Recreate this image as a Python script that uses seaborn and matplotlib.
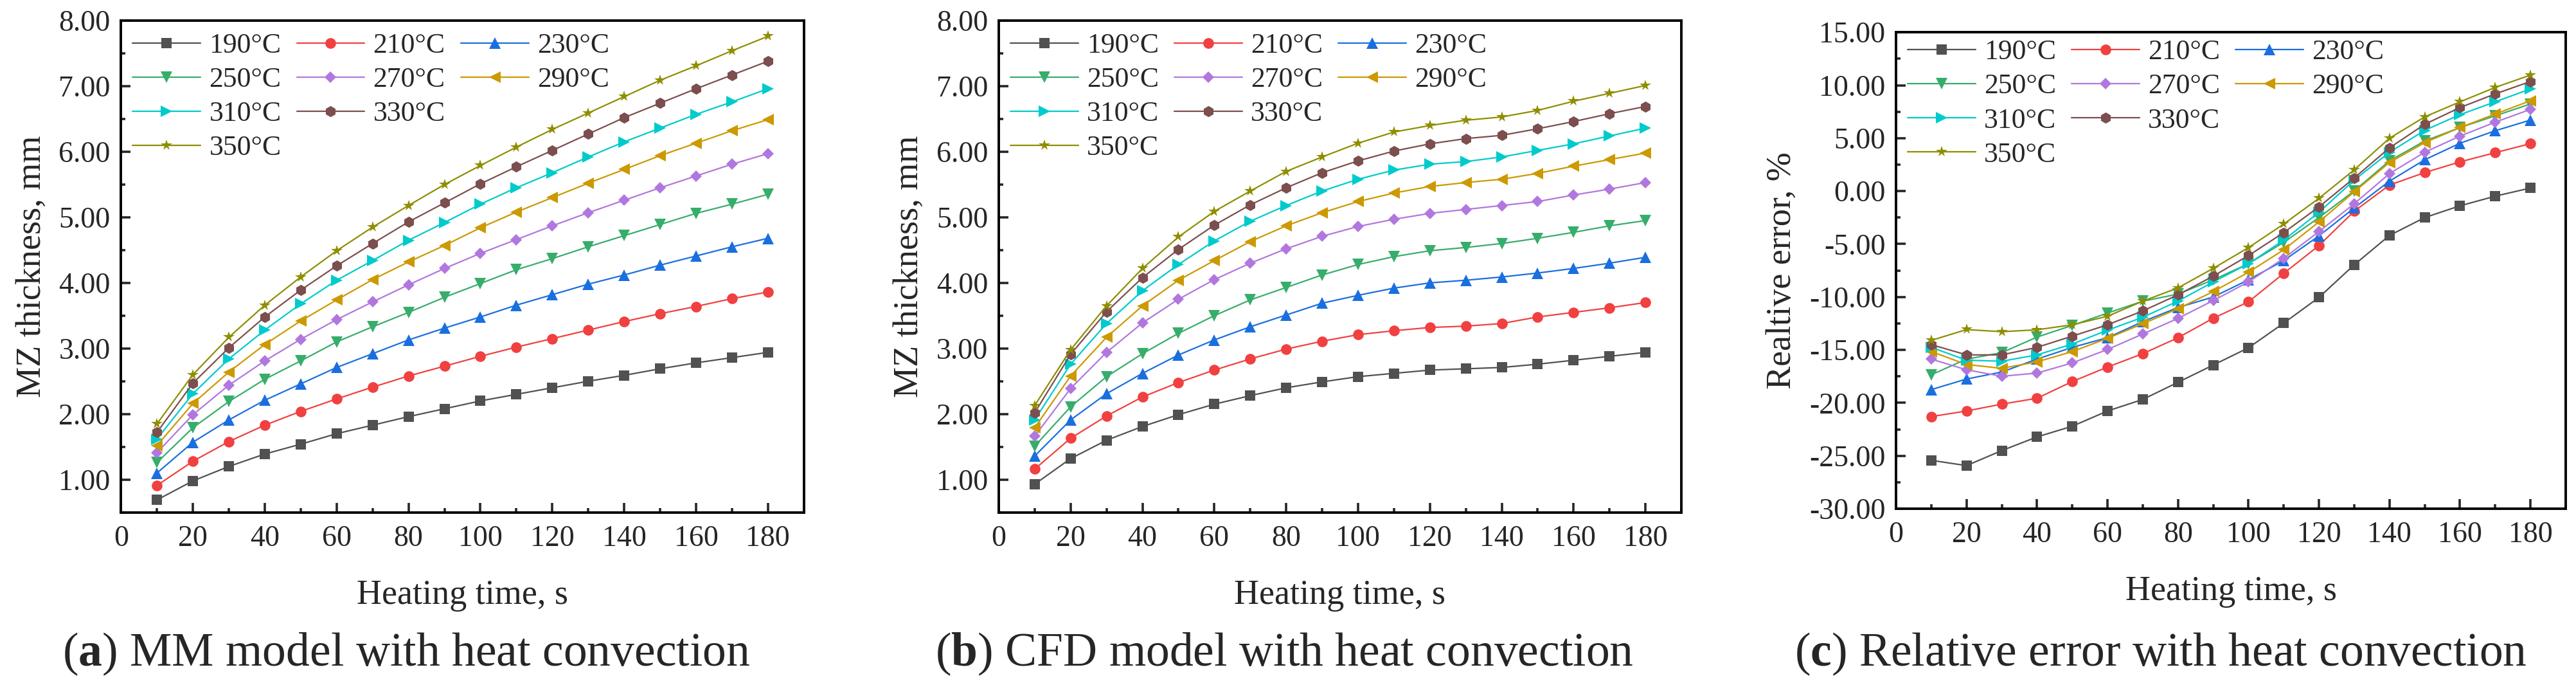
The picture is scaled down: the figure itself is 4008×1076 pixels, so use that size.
import numpy as np
import pandas as pd
import seaborn as sns
import matplotlib.pyplot as plt
from matplotlib.lines import Line2D
from matplotlib.ticker import MultipleLocator, FormatStrFormatter

sns.set_style("ticks")
plt.rcParams['font.family'] = ['Liberation Serif', 'DejaVu Serif']
plt.rcParams['mathtext.fontset'] = 'custom'
plt.rcParams['mathtext.rm'] = 'Liberation Serif'
plt.rcParams['mathtext.bf'] = 'Liberation Serif:bold'

time = [10, 20, 30, 40, 50, 60, 70, 80, 90, 100, 110, 120, 130, 140, 150, 160, 170, 180]
temps = ['190°C', '210°C', '230°C', '250°C', '270°C', '290°C', '310°C', '330°C', '350°C']

# (a) MM model, MZ thickness in mm
mm_190 = [0.69, 0.98, 1.20, 1.39, 1.54, 1.70, 1.83, 1.96, 2.08, 2.20, 2.30, 2.40, 2.50, 2.59, 2.69, 2.78, 2.86, 2.94]
mm_210 = [0.91, 1.28, 1.58, 1.83, 2.04, 2.23, 2.41, 2.58, 2.73, 2.88, 3.02, 3.15, 3.28, 3.41, 3.53, 3.64, 3.76, 3.86]
mm_230 = [1.10, 1.57, 1.91, 2.21, 2.46, 2.71, 2.92, 3.13, 3.31, 3.48, 3.66, 3.82, 3.98, 4.12, 4.27, 4.41, 4.55, 4.68]
mm_250 = [1.26, 1.79, 2.19, 2.53, 2.81, 3.10, 3.33, 3.55, 3.78, 3.99, 4.20, 4.37, 4.55, 4.72, 4.89, 5.06, 5.20, 5.35]
mm_270 = [1.41, 1.99, 2.44, 2.81, 3.14, 3.44, 3.71, 3.97, 4.22, 4.45, 4.66, 4.87, 5.07, 5.26, 5.45, 5.63, 5.81, 5.97]
mm_290 = [1.52, 2.16, 2.64, 3.06, 3.42, 3.74, 4.05, 4.32, 4.57, 4.84, 5.08, 5.30, 5.52, 5.73, 5.94, 6.13, 6.32, 6.49]
mm_310 = [1.62, 2.31, 2.84, 3.28, 3.68, 4.04, 4.34, 4.65, 4.92, 5.20, 5.45, 5.68, 5.92, 6.15, 6.36, 6.57, 6.76, 6.96]
mm_330 = [1.72, 2.47, 3.01, 3.48, 3.89, 4.26, 4.60, 4.93, 5.22, 5.51, 5.77, 6.02, 6.27, 6.52, 6.74, 6.96, 7.17, 7.38]
mm_350 = [1.85, 2.60, 3.17, 3.66, 4.09, 4.49, 4.85, 5.18, 5.50, 5.79, 6.07, 6.34, 6.59, 6.84, 7.09, 7.31, 7.54, 7.76]

# (b) CFD model, MZ thickness in mm
cfd_190 = [0.93, 1.32, 1.60, 1.81, 1.99, 2.15, 2.28, 2.40, 2.49, 2.57, 2.62, 2.67, 2.69, 2.71, 2.76, 2.82, 2.88, 2.94]
cfd_210 = [1.16, 1.63, 1.97, 2.26, 2.48, 2.67, 2.84, 2.99, 3.11, 3.21, 3.27, 3.32, 3.34, 3.38, 3.48, 3.55, 3.62, 3.70]
cfd_230 = [1.36, 1.91, 2.31, 2.62, 2.90, 3.13, 3.33, 3.51, 3.69, 3.81, 3.92, 4.00, 4.04, 4.09, 4.15, 4.22, 4.30, 4.39]
cfd_250 = [1.51, 2.11, 2.57, 2.92, 3.23, 3.50, 3.74, 3.93, 4.12, 4.28, 4.40, 4.49, 4.54, 4.60, 4.68, 4.77, 4.87, 4.95]
cfd_270 = [1.66, 2.39, 2.94, 3.39, 3.75, 4.05, 4.30, 4.52, 4.71, 4.86, 4.97, 5.06, 5.12, 5.18, 5.24, 5.34, 5.43, 5.53]
cfd_290 = [1.79, 2.58, 3.17, 3.65, 4.04, 4.34, 4.63, 4.87, 5.07, 5.24, 5.37, 5.47, 5.53, 5.58, 5.67, 5.78, 5.88, 5.98]
cfd_310 = [1.91, 2.76, 3.38, 3.88, 4.28, 4.64, 4.94, 5.18, 5.40, 5.58, 5.72, 5.81, 5.85, 5.92, 6.02, 6.12, 6.24, 6.36]
cfd_330 = [2.02, 2.91, 3.56, 4.08, 4.51, 4.88, 5.19, 5.45, 5.68, 5.86, 6.01, 6.12, 6.20, 6.25, 6.35, 6.46, 6.58, 6.69]
cfd_350 = [2.13, 2.98, 3.65, 4.22, 4.70, 5.09, 5.40, 5.70, 5.92, 6.13, 6.30, 6.40, 6.48, 6.53, 6.63, 6.77, 6.89, 7.01]

# (c) relative error in %
err_190 = [-25.43, -25.93, -24.51, -23.22, -22.21, -20.77, -19.68, -18.06, -16.43, -14.80, -12.47, -10.04, -6.96, -4.19, -2.50, -1.39, -0.48, 0.29]
err_210 = [-21.30, -20.77, -20.12, -19.57, -17.99, -16.62, -15.36, -13.85, -12.01, -10.46, -7.77, -5.14, -1.90, 0.57, 1.75, 2.76, 3.63, 4.48]
err_230 = [-18.75, -17.75, -17.09, -15.87, -14.76, -13.85, -12.33, -11.00, -10.00, -8.38, -6.56, -4.23, -1.59, 0.94, 2.96, 4.52, 5.70, 6.71]
err_250 = [-17.35, -15.87, -15.26, -13.79, -12.69, -11.52, -10.40, -9.73, -8.38, -6.86, -4.84, -2.50, 0.02, 2.86, 4.73, 6.00, 7.11, 8.23]
err_270 = [-15.87, -16.88, -17.49, -17.19, -16.23, -14.96, -13.50, -12.02, -10.34, -8.58, -6.35, -3.82, -1.19, 1.65, 3.67, 5.19, 6.51, 7.72]
err_290 = [-15.16, -16.38, -16.74, -16.13, -15.16, -13.91, -12.53, -11.11, -9.49, -7.67, -5.54, -2.91, -0.07, 2.70, 4.58, 6.00, 7.28, 8.53]
err_310 = [-14.76, -15.97, -16.07, -15.47, -14.45, -13.14, -11.92, -10.39, -8.58, -6.86, -4.63, -2.00, 1.04, 3.67, 5.74, 7.22, 8.43, 9.65]
err_330 = [-14.50, -15.47, -15.47, -14.76, -13.70, -12.63, -11.32, -9.80, -8.03, -6.09, -3.92, -1.49, 1.24, 4.08, 6.31, 7.89, 9.18, 10.35]
err_350 = [-14.10, -13.08, -13.28, -13.10, -12.63, -11.82, -10.40, -9.14, -7.30, -5.34, -3.11, -0.68, 2.01, 4.99, 7.01, 8.43, 9.79, 10.96]

mm_data = [mm_190, mm_210, mm_230, mm_250, mm_270, mm_290, mm_310, mm_330, mm_350]
cfd_data = [cfd_190, cfd_210, cfd_230, cfd_250, cfd_270, cfd_290, cfd_310, cfd_330, cfd_350]
err_data = [err_190, err_210, err_230, err_250, err_270, err_290, err_310, err_330, err_350]

colors = ['#515151', '#F14040', '#1A6FDF', '#37AD6B', '#B177DE', '#CC9900', '#00CBCC', '#7D4E4E', '#8E8E00']
markers = ['s', 'o', '^', 'v', 'D', '<', '>', 'h', '*']
msizes = [11.5, 12, 13.5, 13.5, 9.2, 13.5, 13.5, 12.5, 13]

fig = plt.figure(figsize=(40.08, 10.76), dpi=100)
ax_a = fig.add_axes([0.04698, 0.25957, 0.26507, 0.71069])
ax_b = fig.add_axes([0.38772, 0.25957, 0.26497, 0.71069])
ax_c = fig.add_axes([0.73603, 0.26487, 0.25998, 0.68848])


def draw_panel(ax, series, ylabel, ylim, ymajor, leg_y):
    for i, vals in enumerate(series):
        sns.lineplot(x=time, y=vals, ax=ax, color=colors[i], marker=markers[i],
                     markersize=msizes[i], markeredgewidth=0, linewidth=1.6)
    ax.set_xlim(0, 190)
    ax.set_ylim(*ylim)
    ax.set_xticks(range(0, 181, 20))
    ax.xaxis.set_minor_locator(MultipleLocator(10))
    ax.yaxis.set_major_locator(MultipleLocator(ymajor))
    ax.yaxis.set_minor_locator(MultipleLocator(ymajor / 2))
    ax.yaxis.set_major_formatter(FormatStrFormatter('%.2f'))
    ax.tick_params(which='both', direction='in', top=False, right=False, width=2.6, labelsize=33)
    ax.tick_params(which='major', length=10.5)
    ax.tick_params(which='minor', length=5)
    ax.tick_params(axis='x', which='major', pad=14)
    ax.tick_params(axis='y', which='major', pad=12)
    for sp in ax.spines.values():
        sp.set_visible(True)
        sp.set_linewidth(2.8)
        sp.set_color('black')
    ax.set_xlabel('Heating time, s', fontsize=39, labelpad=30)
    ax.set_ylabel(ylabel, fontsize=39, labelpad=12)
    ax.grid(False)

    # legend laid out row by row, three columns
    hs = [Line2D([], [], color=colors[i], marker=markers[i], markersize=msizes[i],
                 markeredgewidth=0, linewidth=1.6) for i in range(9)]
    blank = Line2D([], [], linestyle='none', marker=None)
    order = [0, 3, 6, 8, 1, 4, 7, None, 2, 5, None, None]
    handles = [hs[k] if k is not None else blank for k in order]
    labels = [temps[k] if k is not None else '' for k in order]
    ax.legend(handles, labels, ncol=3, loc='upper left', bbox_to_anchor=(0.017, leg_y),
              frameon=False, fontsize=31.5, handlelength=2.42, handletextpad=0.3,
              columnspacing=0.55, labelspacing=0.3, borderpad=0, borderaxespad=0)


draw_panel(ax_a, mm_data, 'MZ thickness, mm', (0.5, 8.0), 1, 0.975)
draw_panel(ax_b, cfd_data, 'MZ thickness, mm', (0.5, 8.0), 1, 0.975)
draw_panel(ax_c, err_data, 'Realtive error, %', (-30, 15), 5, 0.985)

fig.text(0.1577, 0.0381, r'($\mathbf{a}$) MM model with heat convection', fontsize=53,
         ha='center', va='baseline')
fig.text(0.4985, 0.0381, r'($\mathbf{b}$) CFD model with heat convection', fontsize=53,
         ha='center', va='baseline')
fig.text(0.8388, 0.0381, r'($\mathbf{c}$) Relative error with heat convection', fontsize=53,
         ha='center', va='baseline')

fig.savefig('out.png', dpi=100)
